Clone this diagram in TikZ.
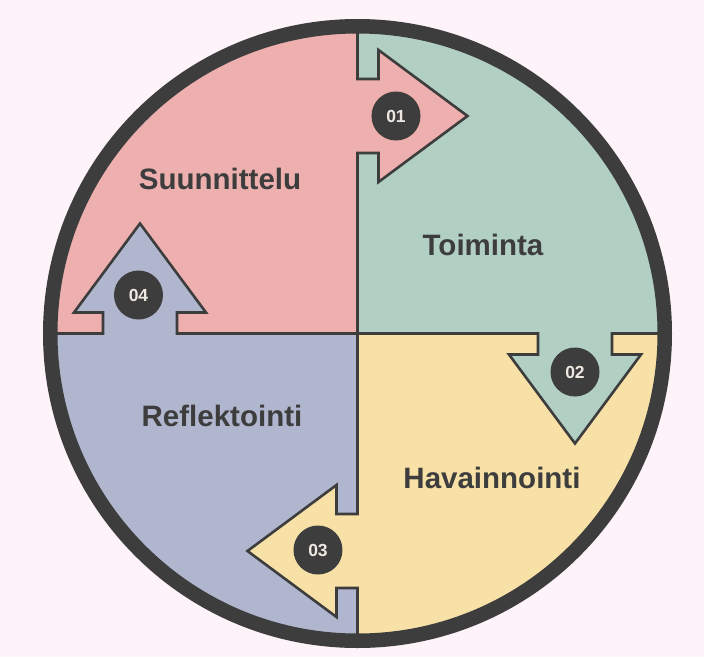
\documentclass[tikz,border=0pt]{standalone}
\usepackage{fontspec}
\setmainfont{Liberation Sans}
\definecolor{bg}{HTML}{FDF3F8}
\definecolor{dk}{HTML}{3D3D3D}
\definecolor{cpink}{HTML}{EEAFAF}
\definecolor{cteal}{HTML}{B2CFC3}
\definecolor{cyel}{HTML}{F8E1A7}
\definecolor{clav}{HTML}{B1B6CF}
\definecolor{ctxt}{HTML}{EEE8E2}
\begin{document}
\begin{tikzpicture}[x=1pt,y=1pt,
  badge/.style={circle, fill=dk, minimum size=49pt, inner sep=0pt, text=ctxt,
    font=\bfseries\fontsize{17.5}{18}\selectfont},
  lbl/.style={text=dk, font=\bfseries\fontsize{29.5}{30}\selectfont, inner sep=0pt},
  divider/.style={draw=dk, line width=2.6pt, line join=miter, miter limit=20},
  ring/.style={draw=dk, line width=14.5pt}]
\fill[bg] (-357.5,-323.5) rectangle (346.5,333.5);
\useasboundingbox (-357.5,-323.5) rectangle (346.5,333.5);
% quadrants and arrow bodies
\begin{scope}
  \clip (0,0) circle (307.5);
  \fill[cpink] (0,0) rectangle (-320,320);
  \fill[cteal] (0,0) rectangle (320,320);
  \fill[cyel]  (0,0) rectangle (320,-320);
  \fill[clav]  (0,0) rectangle (-320,-320);
  \foreach \ang/\col in {0/cpink,-90/cteal,-180/cyel,-270/clav}{
    \begin{scope}[rotate=\ang, shift={(0,217.5)}]
      \fill[\col] (-2,37) -- (21,37) -- (21,66) -- (110,0) -- (21,-66) -- (21,-37) -- (-2,-37) -- cycle;
    \end{scope}
  }
\end{scope}
% dividers with arrow outlines
\foreach \ang in {0,-90,-180,-270}{
  \begin{scope}[rotate=\ang, shift={(0,217.5)}]
    \path[divider] (0,92) -- (0,37) -- (21,37) -- (21,66) -- (110,0) -- (21,-66) -- (21,-37) -- (0,-37) -- (0,-218.8);
  \end{scope}
}
% outer ring
\path[ring] (0,0) circle (307.25);
% badges
\node[badge] (b1) at (38.5,217.5) {01};
\node[badge] (b2) at (217.5,-38.5) {02};
\node[badge] (b3) at (-39.5,-216.5) {03};
\node[badge] (b4) at (-219,38.5) {04};
% labels
\node[lbl] (l1) at (-137.5,154.5) {Suunnittelu};
\node[lbl] (l2) at (125.5,88.5) {Toiminta};
\node[lbl] (l3) at (134.5,-144.5) {Havainnointi};
\node[lbl] (l4) at (-135.5,-82.5) {Reflektointi};
\end{tikzpicture}
\end{document}
